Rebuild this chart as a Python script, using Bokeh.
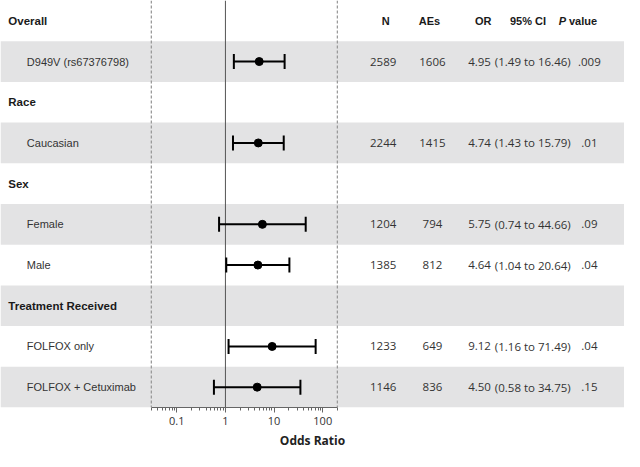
from bokeh.plotting import figure
from bokeh.models import Range1d, Span, Whisker, TeeHead, ColumnDataSource, FixedTicker, LinearScale
from bokeh.core.properties import value
from bokeh.embed import file_html
from bokeh.resources import INLINE

# ---------------- data ----------------
labels = ["Overall", "D949V (rs67376798)", "Race", "Caucasian", "Sex",
          "Female", "Male", "Treatment Received", "FOLFOX only", "FOLFOX + Cetuximab"]
is_header = [True, False, True, False, True, False, False, True, False, False]

n_vals = [2589, 2244, 1204, 1385, 1233, 1146]
ae_vals = [1606, 1415, 794, 812, 649, 836]
or_vals = [4.95, 4.74, 5.75, 4.64, 9.12, 4.50]
ci_lo = [1.49, 1.43, 0.74, 1.04, 1.16, 0.58]
ci_hi = [16.46, 15.79, 44.66, 20.64, 71.49, 34.75]
p_vals = [".009", ".01", ".09", ".04", ".04", ".15"]

col_heads = ["N", "AEs", "OR", "95% CI"]
major_ticks = [0.1, 1, 10, 100]
tick_labels = ["0.1", "1", "10", "100"]
axis_bounds = (0.03, 200)

# ---------------- layout helpers ----------------
W, H = 624, 451
LAYOUT_W = 640.0          # layout coordinate system (reference pixels)
ONE_X, DEC_PX = 230.7, 49.9  # where OR = 1 sits, and px per decade

rows = list(range(len(labels)))
header_rows = [r for r in rows if is_header[r]]
item_rows = [r for r in rows if not is_header[r]]
band_rows = [r for r in rows if r % 2 == 1]

x_lo = 10 ** (-ONE_X / DEC_PX)
x_hi = 10 ** ((LAYOUT_W - ONE_X) / DEC_PX)

p = figure(width=W, height=H, x_axis_type="log",
           x_range=Range1d(x_lo, x_hi),
           y_range=Range1d(len(labels) - 0.5, -0.5),
           y_axis_location=None, toolbar_location=None,
           output_backend="svg", min_border_left=0, min_border_right=0,
           min_border_top=0, min_border_bottom=36)
p.extra_x_ranges = {"layout": Range1d(0, LAYOUT_W)}
p.extra_x_scales = {"layout": LinearScale()}
p.outline_line_color = None
p.xgrid.visible = False
p.ygrid.visible = False
p.background_fill_color = "white"

# bands
p.hbar(y=band_rows, height=1, left=0, right=LAYOUT_W, x_range_name="layout",
       fill_color="#e3e3e4", line_color=None, level="underlay")

# reference lines
p.add_layout(Span(location=1, dimension="height", line_color="#555555", line_width=1))
for b in axis_bounds:
    p.add_layout(Span(location=b, dimension="height", line_color="#9a9a9a",
                      line_width=1.3, line_dash="3 2"))

# forest marks
src = ColumnDataSource(dict(row=item_rows, orv=or_vals, lo=ci_lo, hi=ci_hi))
wh = Whisker(source=src, base="row", lower="lo", upper="hi", dimension="width",
             line_color="black", line_width=2, level="overlay",
             upper_head=TeeHead(size=15, line_color="black", line_width=2),
             lower_head=TeeHead(size=15, line_color="black", line_width=2))
p.add_layout(wh)
p.scatter(x="orv", y="row", source=src, size=8, color="black", level="overlay")

# axis
ax = p.xaxis[0]
ax.bounds = axis_bounds
minor = [m * d for d in (0.01, 0.1, 1, 10, 100) for m in range(2, 10)
         if axis_bounds[0] - 1e-9 <= m * d <= axis_bounds[1] + 1e-9]
ax.ticker = FixedTicker(ticks=major_ticks, minor_ticks=minor)
ax.major_label_overrides = {t: s for t, s in zip(major_ticks, tick_labels)}
ax.axis_line_color = "#666666"
ax.major_tick_line_color = "#666666"
ax.minor_tick_line_color = "#666666"
ax.major_tick_in = 0
ax.major_tick_out = 5
ax.minor_tick_in = 0
ax.minor_tick_out = 3
ax.major_label_text_font = "Open Sans"
ax.major_label_text_font_size = "11px"
ax.major_label_text_color = "#333333"
ax.major_label_standoff = 4
ax.axis_label = "Odds Ratio"
ax.axis_label_text_font = "Open Sans"
ax.axis_label_text_font_style = "bold"
ax.axis_label_text_font_size = "12px"
ax.axis_label_text_color = "#222222"
ax.axis_label_standoff = 4

# left labels
LF = value("Liberation Sans")
p.text(x=8, y=header_rows, text=[labels[r] for r in header_rows],
       x_range_name="layout", text_font=LF, text_font_size="11.5px",
       text_font_style="bold", text_color="#1a1a1a", text_baseline="middle")
p.text(x=27, y=item_rows, text=[labels[r] for r in item_rows],
       x_range_name="layout", text_font=LF, text_font_size="11px",
       text_font_style="normal", text_color="#333333", text_baseline="middle")

# column headers
head_x = [395, 440, 495, 541]
p.text(x=head_x, y=[0] * len(col_heads), text=col_heads, x_range_name="layout",
       text_font=LF, text_font_size="11px", text_font_style="bold",
       text_color="#1a1a1a", text_align="center", text_baseline="middle")
p.text(x=[580], y=[0], text=["P"], x_range_name="layout", text_font=LF,
       text_font_size="11px", text_font_style="bold italic", text_color="#1a1a1a",
       text_align="right", text_baseline="middle")
p.text(x=[583], y=[0], text=["value"], x_range_name="layout", text_font=LF,
       text_font_size="11px", text_font_style="bold", text_color="#1a1a1a",
       text_align="left", text_baseline="middle")

# table values
TF = value("Open Sans")
tcommon = dict(x_range_name="layout", text_font=TF, text_font_size="11.5px",
               text_color="#333333", text_baseline="middle")
p.text(x=406, y=item_rows, text=[str(v) for v in n_vals], text_align="right", **tcommon)
p.text(x=443, y=item_rows, text=[str(v) for v in ae_vals], text_align="center", **tcommon)
p.text(x=503, y=item_rows, text=[f"{v:.2f}" for v in or_vals], text_align="right", **tcommon)
p.text(x=507, y=item_rows, text=[f"({a:.2f} to {b:.2f})" for a, b in zip(ci_lo, ci_hi)],
       text_align="left", **tcommon)
p.text(x=604, y=item_rows, text=p_vals, text_align="center", **tcommon)

open("out.html", "w").write(file_html(p, INLINE))
